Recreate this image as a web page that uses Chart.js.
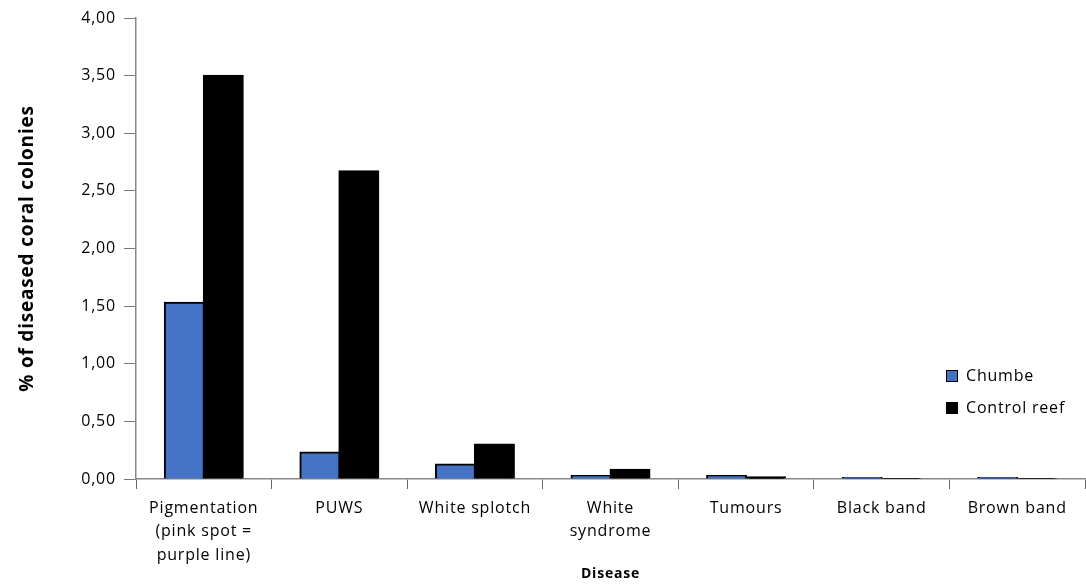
<!DOCTYPE html>
<html><head><meta charset="utf-8">
<script src="https://cdn.jsdelivr.net/npm/chart.js@4/dist/chart.umd.min.js"></script>
<style>html,body{margin:0;padding:0;background:#fff}canvas{display:block}</style>
</head><body>
<canvas id="c" width="1086" height="584"></canvas>
<script>
const categories = [["Pigmentation","(pink spot =","purple line)"],"PUWS","White splotch",["White","syndrome"],"Tumours","Black band","Brown band"];
const chumbe = [1.53, 0.23, 0.125, 0.025, 0.025, 0.008, 0.008];
const controlReef = [3.50, 2.67, 0.30, 0.08, 0.015, 0.004, 0.004];
const seriesNames = ["Chumbe", "Control reef"];
const yTitle = "% of diseased coral colonies";
const xTitle = "Disease";

const FONT = "'Open Sans', Lato, sans-serif";

const spacingPlugin = {
  id: 'spacing',
  beforeUpdate(chart) { chart.ctx.letterSpacing = '0.8px'; },
  beforeDraw(chart) { chart.ctx.letterSpacing = '0.8px'; }
};

const legendPlugin = {
  id: 'customLegend',
  afterDraw(chart) {
    const ctx = chart.ctx;
    ctx.save();
    ctx.font = "16px " + FONT;
    ctx.textBaseline = 'middle';
    chart.data.datasets.forEach((ds, i) => {
      const x = 946, y = 376 + i * 32;
      ctx.fillStyle = ds.backgroundColor;
      ctx.fillRect(x, y - 6, 12, 12);
      ctx.strokeStyle = '#000'; ctx.lineWidth = 1;
      ctx.strokeRect(x + 0.5, y - 5.5, 11, 11);
      ctx.fillStyle = '#000';
      ctx.fillText(ds.label, x + 20, y);
    });
    ctx.restore();
  }
};

new Chart(document.getElementById('c'), {
  type: 'bar',
  data: {
    labels: categories,
    datasets: [
      {label: seriesNames[0], data: chumbe, backgroundColor: '#4472C4', borderColor: '#000', borderWidth: 2, inflateAmount: 1},
      {label: seriesNames[1], data: controlReef, backgroundColor: '#000', borderColor: '#000', borderWidth: 2, inflateAmount: 1}
    ]
  },
  options: {
    responsive: false,
    animation: false,
    layout: {padding: {top: 18, right: 1, left: 0, bottom: 0}},
    datasets: {bar: {categoryPercentage: 0.575, barPercentage: 1.0}},
    plugins: {legend: {display: false}, tooltip: {enabled: false}},
    scales: {
      x: {
        grid: {drawOnChartArea: false, drawTicks: true, tickLength: 10, color: '#666', offset: true},
        border: {color: '#888', width: 1.5},
        ticks: {color: '#000', font: {size: 16, family: FONT, lineHeight: 1.45}, maxRotation: 0, autoSkip: false, padding: 8},
        title: {display: true, text: xTitle, color: '#000', font: {size: 14, weight: 'bold', family: FONT}, padding: {top: 0, bottom: 2}},
        afterFit(s) { s.height = 105; }
      },
      y: {
        min: 0, max: 4,
        grid: {drawOnChartArea: false, drawTicks: true, tickLength: 12, color: '#777'},
        border: {color: '#888', width: 1.5},
        ticks: {stepSize: 0.5, color: '#000', font: {size: 16, family: FONT}, padding: 8,
          callback: v => v.toFixed(2).replace('.', ',')},
        title: {display: true, text: yTitle, color: '#000', font: {size: 19, weight: 'bold', family: FONT}, padding: {top: 16, bottom: 0}},
        afterFit(s) { s.width = 136; }
      }
    }
  },
  plugins: [spacingPlugin, legendPlugin]
});
</script>
</body></html>
